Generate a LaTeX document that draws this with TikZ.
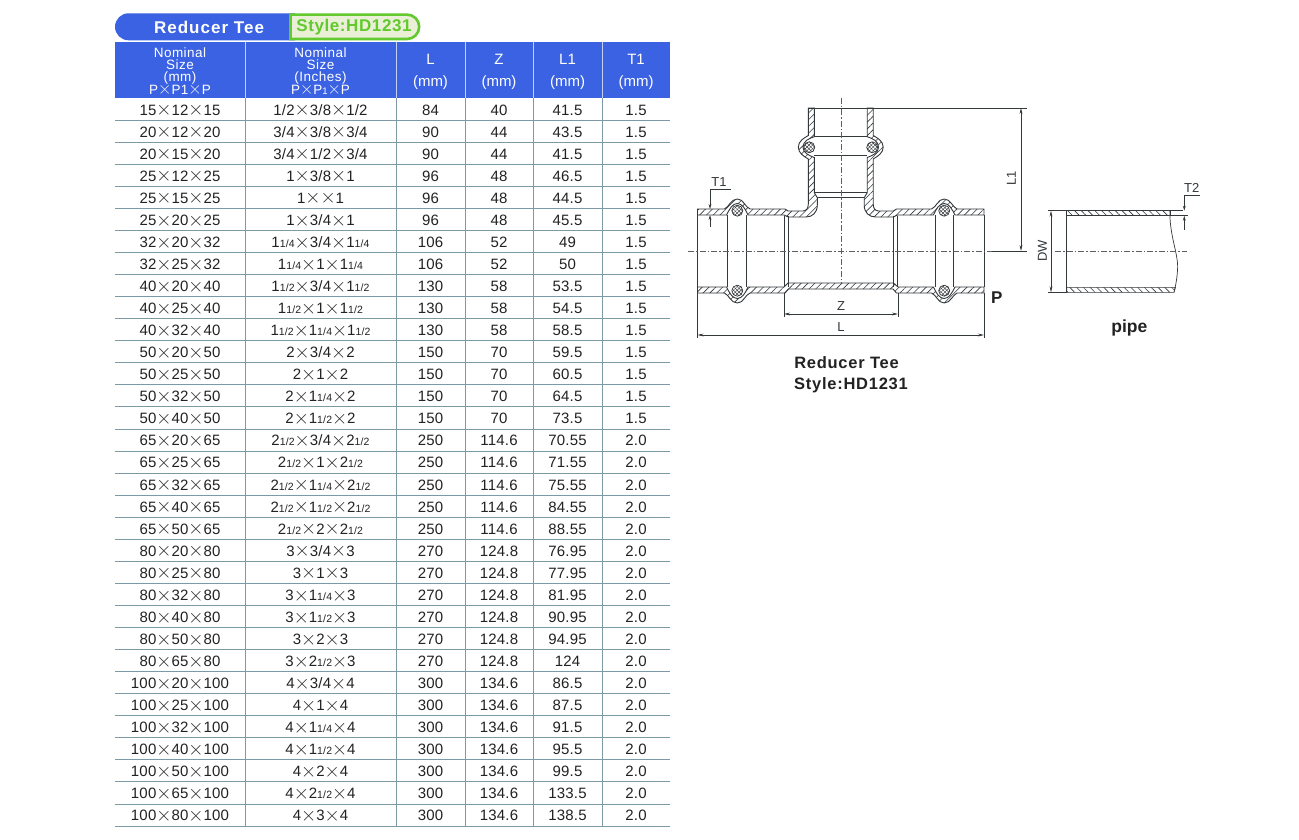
\documentclass[tikz,border=0pt]{standalone}
\usepackage{fontspec}
\setmainfont{Liberation Sans}
\newfontfamily\lmx{Latin Modern Roman}
\usetikzlibrary{arrows.meta,patterns.meta}
\definecolor{hdrblue}{HTML}{3A62E2}
\definecolor{rulegrey}{HTML}{7C9AA6}
\definecolor{txt}{HTML}{222222}
\definecolor{drw}{HTML}{33383B}
\definecolor{grn}{HTML}{62C92E}
\definecolor{pale}{HTML}{E9F0D6}
\newcommand\X{\raisebox{-.7pt}{\lmx\fontsize{21}{21}\selectfont ×}}
\newcommand\Xs{\raisebox{-.6pt}{\lmx\fontsize{18.5}{18.5}\selectfont ×}}
\newcommand\fr[1]{{\fontsize{10.5}{10.5}\selectfont #1}}
\newcounter{rw}
\newcommand\trow[6]{%
  \pgfmathsetmacro\ry{98+22.06*(\value{rw}+.5)+6}%
  \node[cell] (r\arabic{rw}a) at (180,\ry) {#1};
  \node[cell] (r\arabic{rw}b) at (320.5,\ry) {#2};
  \node[cell] (r\arabic{rw}c) at (430.5,\ry) {#3};
  \node[cell] (r\arabic{rw}d) at (499,\ry) {#4};
  \node[cell] (r\arabic{rw}e) at (567.5,\ry) {#5};
  \node[cell] (r\arabic{rw}f) at (636,\ry) {#6};
  \stepcounter{rw}%
}
\newcommand\topwall{(697.5,209) -- (724.5,209) .. controls (729,207) and (731,199) .. (737.3,199) .. controls (743.5,199) and (745,207) .. (750,209) -- (785,209) -- (788,211) -- (803,211) .. controls (806.5,211) and (808.3,208) .. (808.3,204) -- (808.3,159) .. controls (804,156.5) and (798.3,153) .. (798.3,147.3) .. controls (798.3,141) and (804,138) .. (808.3,135.5) -- (808.3,108) -- (814.3,108) -- (814.3,136.7) .. controls (809,138.5) and (803,141) .. (803,147.3) .. controls (803,153) and (809,155.5) .. (814.3,157.5) -- (814.3,192.7) -- (817.3,197.7) -- (817.3,205) .. controls (817.3,213) and (812,217) .. (806,217) -- (788.3,217) -- (784,215) -- (748,215) .. controls (745.5,209) and (742,203.5) .. (737.3,203.5) .. controls (732.5,203.5) and (729.5,209) .. (726.5,215) -- (697.5,215) -- cycle}
\newcommand\botwall{(697.5,293) -- (724.5,293) .. controls (729,295) and (731,303) .. (737.3,303) .. controls (743.5,303) and (745,295) .. (750,293) -- (785,293) -- (788.5,289) -- (893,289) -- (896.5,293) -- (931.5,293) .. controls (936.5,295) and (938,303) .. (944.2,303) .. controls (950.5,303) and (952.5,295) .. (957,293) -- (984,293) -- (984,287) -- (955,287) .. controls (952,293) and (949,298.5) .. (944.2,298.5) .. controls (939.5,298.5) and (936,293) .. (933.5,287) -- (898,287) -- (893.5,283) -- (788,283) -- (784,287) -- (748,287) .. controls (745.5,293) and (742,298.5) .. (737.3,298.5) .. controls (732.5,298.5) and (729.5,293) .. (726.5,287) -- (697.5,287) -- cycle}
\tikzset{
  cell/.style={inner sep=0pt,anchor=base,text=txt,font=\fontsize{15}{15}\selectfont\addfontfeature{LetterSpace=1.5}},
  hdr/.style={inner sep=0pt,text=white,align=center,font=\fontsize{13.5}{12}\selectfont\addfontfeature{LetterSpace=3.5}},
  hdrb/.style={inner sep=0pt,text=white,align=center,font=\fontsize{15}{22}\selectfont},
  wall/.style={draw=drw,line width=.9pt,pattern={Lines[angle=45,distance=4.8pt,line width=.6pt]},pattern color=drw},
  pipewall/.style={draw=drw,line width=.6pt,pattern={Lines[angle=-45,distance=4.8pt,line width=.6pt]},pattern color=drw},
  seal/.style={circle,draw=drw,line width=.7pt,minimum size=11pt,inner sep=0pt,fill=white,
     postaction={pattern={Lines[angle=45,distance=2.6pt,line width=.45pt]},pattern color=drw},
     postaction={pattern={Lines[angle=-45,distance=2.6pt,line width=.45pt]},pattern color=drw}},
  edge line/.style={draw=drw,line width=.9pt},
  thin line/.style={draw=drw,line width=.7pt},
  centre/.style={draw=drw!80,line width=.6pt,dash pattern=on 6pt off 2pt on 1.5pt off 2pt},
  dim/.style={draw=drw,line width=.6pt},
  dimarr/.style={draw=drw,line width=.6pt,{Stealth[length=6pt,width=2.8pt]}-{Stealth[length=6pt,width=2.8pt]}},
  downarr/.style={draw=drw,line width=.6pt,-{Stealth[length=5pt,width=2.8pt]}},
  lab/.style={inner sep=0pt,text=drw,font=\fontsize{13}{13}\selectfont},
  cap lab/.style={inner sep=0pt,text=txt,font=\fontsize{16.5}{16.5}\bfseries\selectfont\addfontfeature{LetterSpace=4.5}}
}
\begin{document}
\begin{tikzpicture}[x=1pt,y=-1pt]
\useasboundingbox (0,0) rectangle (1299,840);
\fill[white] (0,0) rectangle (1299,840);
% title bar
\fill[hdrblue] (295,13.3) -- (128.5,13.3) arc[start angle=-90,end angle=-270,radius=13.5] -- (295,40.3) -- cycle;
\draw[grn,line width=2.6pt,fill=pale] (290.5,14.6) -- (407,14.6) arc[start angle=-90,end angle=90,radius=12.2] -- (290.5,39) -- cycle;
\node[inner sep=0pt,text=white,font=\fontsize{17}{17}\bfseries\selectfont\addfontfeature{LetterSpace=6}] (ttl) at (209,27.3) {Reducer Tee};
\node[inner sep=0pt,text=grn,font=\fontsize{17}{17}\bfseries\selectfont\addfontfeature{LetterSpace=3.5}] (sty) at (354,27.3) {Style:HD1231};
% header
\fill[hdrblue] (115,42.3) rectangle (670,97.7);
\foreach \x in {245,396,465,533,602} \draw[white!70!hdrblue,line width=.8pt] (\x,42.3) -- (\x,97.7);
\node[hdr] (h1) at (180,71) {Nominal\\Size\\(mm)\\P\Xs P1\Xs P};
\node[hdr] (h2) at (320.5,71) {Nominal\\Size\\(Inches)\\P\Xs P{\fontsize{9.5}{9.5}\selectfont 1}\Xs P};
\node[hdrb] (h3) at (430.5,72) {L\\(mm)};
\node[hdrb] (h4) at (499,72) {Z\\(mm)};
\node[hdrb] (h5) at (567.5,72) {L1\\(mm)};
\node[hdrb] (h6) at (636,72) {T1\\(mm)};
% grid
\foreach \i in {1,...,33} \draw[rulegrey,line width=.8pt] (115,98+22.06*\i) -- (670,98+22.06*\i);
\foreach \x in {245,396,465,533,602} \draw[rulegrey,line width=.8pt] (\x,97.7) -- (\x,826);
% rows
\trow{15\X12\X15}{1/2\X3/8\X1/2}{84}{40}{41.5}{1.5}
\trow{20\X12\X20}{3/4\X3/8\X3/4}{90}{44}{43.5}{1.5}
\trow{20\X15\X20}{3/4\X1/2\X3/4}{90}{44}{41.5}{1.5}
\trow{25\X12\X25}{1\X3/8\X1}{96}{48}{46.5}{1.5}
\trow{25\X15\X25}{1\X\X1}{96}{48}{44.5}{1.5}
\trow{25\X20\X25}{1\X3/4\X1}{96}{48}{45.5}{1.5}
\trow{32\X20\X32}{1\fr{1/4}\X3/4\X1\fr{1/4}}{106}{52}{49}{1.5}
\trow{32\X25\X32}{1\fr{1/4}\X1\X1\fr{1/4}}{106}{52}{50}{1.5}
\trow{40\X20\X40}{1\fr{1/2}\X3/4\X1\fr{1/2}}{130}{58}{53.5}{1.5}
\trow{40\X25\X40}{1\fr{1/2}\X1\X1\fr{1/2}}{130}{58}{54.5}{1.5}
\trow{40\X32\X40}{1\fr{1/2}\X1\fr{1/4}\X1\fr{1/2}}{130}{58}{58.5}{1.5}
\trow{50\X20\X50}{2\X3/4\X2}{150}{70}{59.5}{1.5}
\trow{50\X25\X50}{2\X1\X2}{150}{70}{60.5}{1.5}
\trow{50\X32\X50}{2\X1\fr{1/4}\X2}{150}{70}{64.5}{1.5}
\trow{50\X40\X50}{2\X1\fr{1/2}\X2}{150}{70}{73.5}{1.5}
\trow{65\X20\X65}{2\fr{1/2}\X3/4\X2\fr{1/2}}{250}{114.6}{70.55}{2.0}
\trow{65\X25\X65}{2\fr{1/2}\X1\X2\fr{1/2}}{250}{114.6}{71.55}{2.0}
\trow{65\X32\X65}{2\fr{1/2}\X1\fr{1/4}\X2\fr{1/2}}{250}{114.6}{75.55}{2.0}
\trow{65\X40\X65}{2\fr{1/2}\X1\fr{1/2}\X2\fr{1/2}}{250}{114.6}{84.55}{2.0}
\trow{65\X50\X65}{2\fr{1/2}\X2\X2\fr{1/2}}{250}{114.6}{88.55}{2.0}
\trow{80\X20\X80}{3\X3/4\X3}{270}{124.8}{76.95}{2.0}
\trow{80\X25\X80}{3\X1\X3}{270}{124.8}{77.95}{2.0}
\trow{80\X32\X80}{3\X1\fr{1/4}\X3}{270}{124.8}{81.95}{2.0}
\trow{80\X40\X80}{3\X1\fr{1/2}\X3}{270}{124.8}{90.95}{2.0}
\trow{80\X50\X80}{3\X2\X3}{270}{124.8}{94.95}{2.0}
\trow{80\X65\X80}{3\X2\fr{1/2}\X3}{270}{124.8}{124}{2.0}
\trow{100\X20\X100}{4\X3/4\X4}{300}{134.6}{86.5}{2.0}
\trow{100\X25\X100}{4\X1\X4}{300}{134.6}{87.5}{2.0}
\trow{100\X32\X100}{4\X1\fr{1/4}\X4}{300}{134.6}{91.5}{2.0}
\trow{100\X40\X100}{4\X1\fr{1/2}\X4}{300}{134.6}{95.5}{2.0}
\trow{100\X50\X100}{4\X2\X4}{300}{134.6}{99.5}{2.0}
\trow{100\X65\X100}{4\X2\fr{1/2}\X4}{300}{134.6}{133.5}{2.0}
\trow{100\X80\X100}{4\X3\X4}{300}{134.6}{138.5}{2.0}
% tee walls
\path[wall] \topwall;
\begin{scope}[xshift=1681.5pt,xscale=-1]
\path[wall] \topwall;
\end{scope}
\path[wall] \botwall;
% internal edges of tee
\draw[edge line] (697.5,215) -- (697.5,287);
\draw[edge line] (984,215) -- (984,287);
\foreach \x in {727.7,746,935.5,953.8} \draw[thin line] (\x,215) -- (\x,287);
\foreach \x in {784,788.3,893.2,897.5} \draw[edge line] (\x,215.5) -- (\x,286.5);
\draw[edge line] (814.3,136.7) -- (867.2,136.7);
\draw[edge line] (814.3,155.7) -- (867.2,155.7);
\draw[thin line] (814.3,192.7) -- (867.2,192.7);
\draw[thin line] (817.3,197.7) -- (864.2,197.7);
% seals
\node[seal] (s1) at (737.3,210.7) {};
\node[seal] (s2) at (737.3,290.7) {};
\node[seal] (s3) at (944.2,210.7) {};
\node[seal] (s4) at (944.2,290.7) {};
\node[seal] (s5) at (809.3,147.3) {};
\node[seal] (s6) at (872.2,147.3) {};
% centre lines
\coordinate (cl) at (688,251); \coordinate (cr) at (992,251);
\coordinate (vt) at (841,98); \coordinate (vb) at (841,283);
\draw[centre] (cl) -- (cr);
\draw[centre] (vt) -- (vb);
% L1
\coordinate (e1a) at (808.3,108); \coordinate (e1b) at (1027,108);
\coordinate (e2a) at (992,251); \coordinate (e2b) at (1027,251);
\coordinate (L1t) at (1021,108); \coordinate (L1b) at (1021,251);
\draw[dim] (e1a) -- (e1b);
\draw[dim] (e2a) -- (e2b);
\draw[dimarr] (L1t) -- (L1b);
\node[lab,rotate=90] (lL1) at (1011.5,178) {L1};
% Z
\coordinate (z1) at (784,293); \coordinate (z1b) at (784,317);
\coordinate (z2) at (898,293); \coordinate (z2b) at (898,317);
\coordinate (za) at (784,314); \coordinate (zb) at (898,314);
\draw[dim] (z1) -- (z1b);
\draw[dim] (z2) -- (z2b);
\draw[dimarr] (za) -- (zb);
\node[lab] (lZ) at (841,306) {Z};
% L
\coordinate (l1) at (697.5,293); \coordinate (l1b) at (697.5,338);
\coordinate (l2) at (984,293); \coordinate (l2b) at (984,338);
\coordinate (la) at (697.5,335); \coordinate (lb) at (984,335);
\draw[dim] (l1) -- (l1b);
\draw[dim] (l2) -- (l2b);
\draw[dimarr] (la) -- (lb);
\node[lab] (lL) at (841,327) {L};
% T1
\coordinate (t1a) at (730.7,189.3); \coordinate (t1b) at (710,189.3);
\coordinate (t1c) at (710,209); \coordinate (t1d) at (710,226.7); \coordinate (t1e) at (710,215);
\draw[dim] (t1a) -- (t1b);
\draw[downarr] (t1b) -- (t1c);
\draw[downarr] (t1d) -- (t1e);
\node[lab] (lT1) at (719,182.3) {T1};
% captions
\node[inner sep=0pt,text=txt,font=\fontsize{17}{17}\bfseries\selectfont] (lP) at (996.7,298) {P};
\node[cap lab] (c1) at (846.5,363) {Reducer Tee};
\node[cap lab] (c2) at (851,385) {Style:HD1231};
\node[inner sep=0pt,text=txt,font=\fontsize{17.5}{17.5}\bfseries\selectfont] (c3) at (1129.3,327.5) {pipe};
% pipe
\path[pipewall] (1066.7,210.7) -- (1170,210.7) -- (1170,215.7) -- (1066.7,215.7) -- cycle;
\path[pipewall] (1066.7,287.3) -- (1175.5,287.3) -- (1174,292.3) -- (1066.7,292.3) -- cycle;
\coordinate (pa) at (1066.7,210.7); \coordinate (pb) at (1066.7,292.3);
\draw[edge line] (pa) -- (pb);
\coordinate (w1) at (1170,210.7); \coordinate (w2) at (1174,292.3);
\draw[thin line] (w1) .. controls (1169,235) and (1179,255) .. (1177.5,270) .. controls (1177,280) and (1175,288) .. (w2);
\coordinate (px1) at (1048,210.7); \coordinate (px2) at (1183,210.7);
\coordinate (px3) at (1066.7,215.7); \coordinate (px4) at (1188,215.7);
\coordinate (px5) at (1048,292.3); \coordinate (px6) at (1066.7,292.3);
\draw[dim] (px1) -- (px2);
\draw[dim] (px3) -- (px4);
\draw[dim] (px5) -- (px6);
\coordinate (dw1) at (1051,210.7); \coordinate (dw2) at (1051,292.3);
\draw[dimarr] (dw1) -- (dw2);
\node[lab,rotate=90] (lDW) at (1042.3,251) {DW};
\coordinate (pc1) at (1055,251.5); \coordinate (pc2) at (1187,251.5);
\draw[centre] (pc1) -- (pc2);
\coordinate (t2a) at (1200,195.3); \coordinate (t2b) at (1184.3,195.3);
\coordinate (t2c) at (1184.3,210.7); \coordinate (t2d) at (1184.3,230); \coordinate (t2e) at (1184.3,215.7);
\draw[dim] (t2a) -- (t2b);
\draw[downarr] (t2b) -- (t2c);
\draw[downarr] (t2d) -- (t2e);
\node[lab] (lT2) at (1191.7,188.3) {T2};
\end{tikzpicture}
\end{document}
